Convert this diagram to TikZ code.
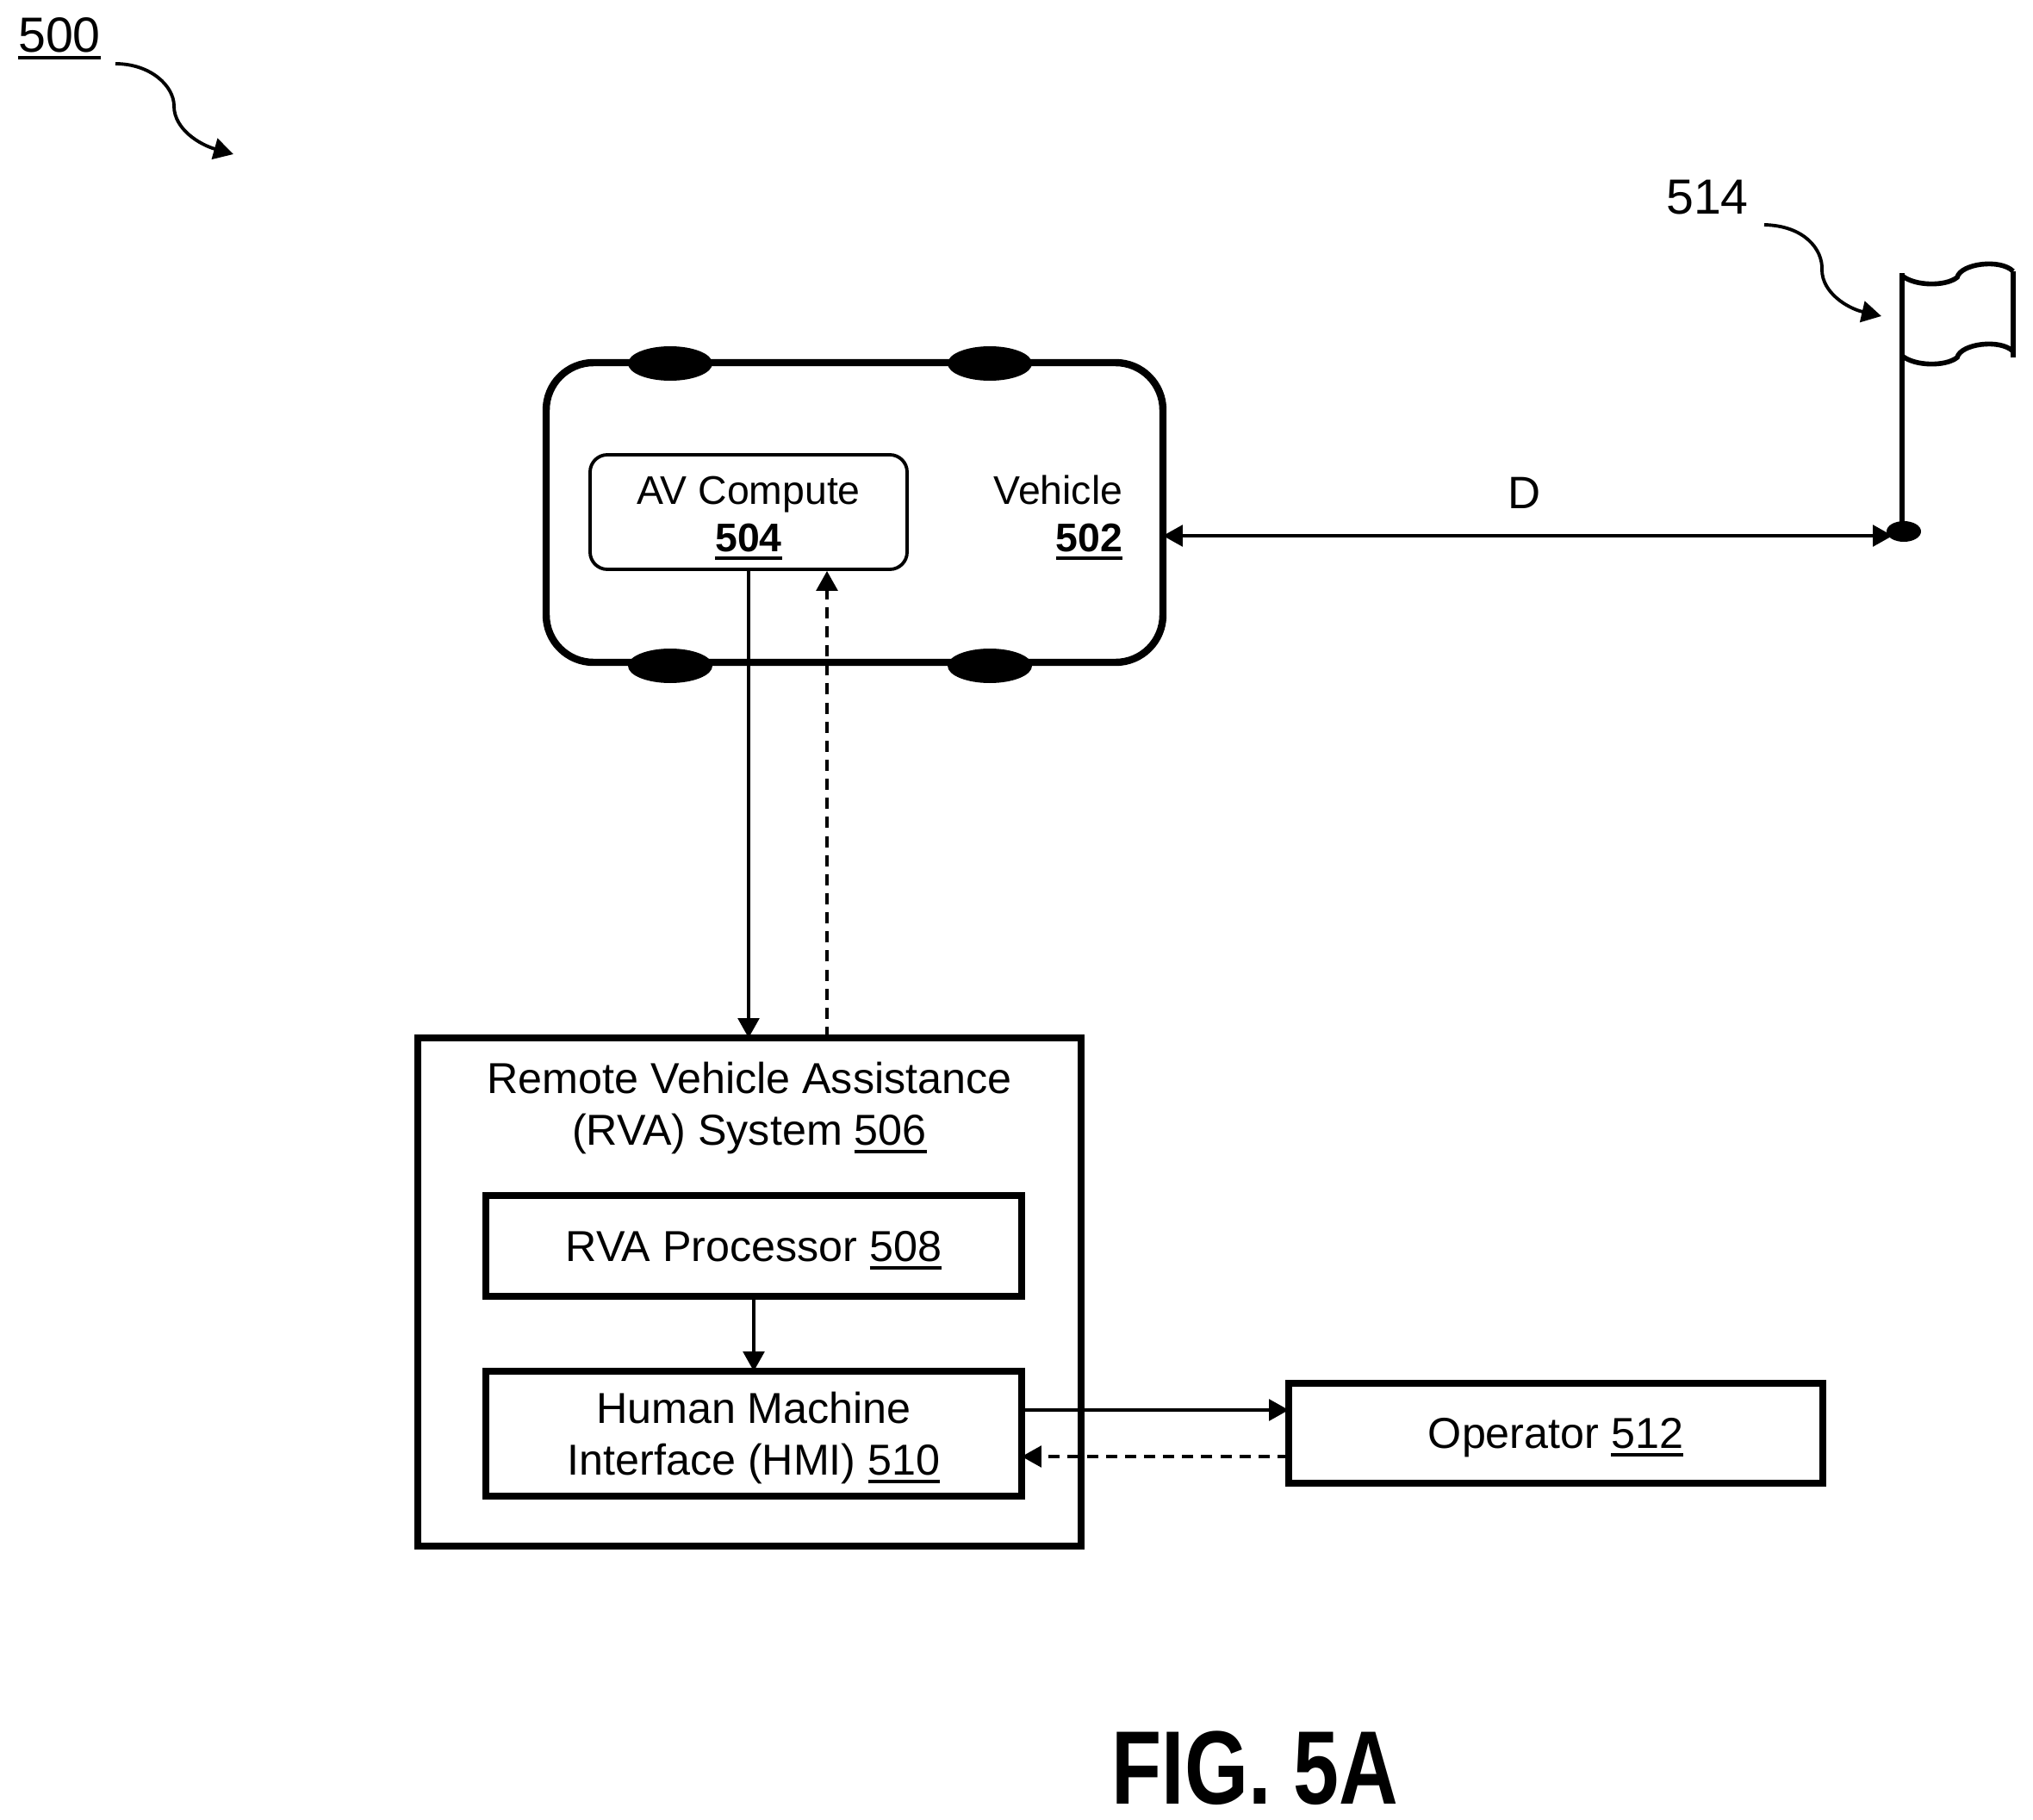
\documentclass[tikz,border=0pt]{standalone}
\usepackage{graphicx}
\usepackage{fontspec}
\setmainfont{Liberation Sans}
\usetikzlibrary{positioning, arrows.meta, shapes.geometric}
\newcommand{\numul}[1]{\leavevmode\setbox0=\hbox{#1}\rlap{\vrule width\wd0 height -1.5pt depth 2.7pt}\box0 }
\newcommand{\boxfont}{\fontsize{14.3}{17}\selectfont}
\newcommand{\carfont}{\fontsize{13.2}{15.7}\selectfont}
\newcommand{\callfont}{\fontsize{16.3}{19}\selectfont}
\newcommand{\boxstrut}{\rule{0pt}{13.2pt}}
\newcommand{\carstrut}{\rule{0pt}{13.4pt}}
\tikzset{
  thickbox/.style={draw, line width=2.3pt, inner sep=0pt, outer sep=0pt, align=center, font=\boxfont},
  wheel/.style={ellipse, fill=black, inner sep=0pt, minimum width=.98cm, minimum height=.4cm},
  link/.style={line width=1pt},
  dashlink/.style={line width=1pt, dash pattern=on 3.7pt off 2.6pt},
  callout/.style={line width=1.1pt},
  flagline/.style={line width=1.6pt},
}
\begin{document}
\begin{tikzpicture}[>={Triangle[length=6.5pt,width=7pt]}]
\useasboundingbox (0,0) rectangle (23.6,-21.13);

% vehicle
\node[draw, line width=2.4pt, outer sep=0pt, rounded corners=.55cm, minimum width=7.16cm, minimum height=3.48cm] (vehicle) at (9.92,-5.95) {};
\foreach \x/\y/\wname in {7.78/-4.22/wheelA, 11.49/-4.22/wheelB, 7.78/-7.73/wheelC, 11.49/-7.73/wheelD}
\node[wheel] (\wname) at (\x,\y) {};
\node[draw, line width=1.1pt, rounded corners=.2cm, inner sep=0pt, minimum width=3.68cm, minimum height=1.33cm, align=center, font=\carfont] (av) at (8.69,-5.945) {\carstrut AV Compute\\\textbf{\numul{504}}};
\node[anchor=east, inner sep=0pt, align=right, font=\carfont] (vehlabel) at (13.04,-6.01) {Vehicle\\\textbf{\numul{502}}};

% RVA system
\node[thickbox, minimum width=7.7cm, minimum height=5.9cm] (rva) at (8.7,-15) {};
\node[align=center, inner sep=0pt, font=\boxfont] (rvatitle) at (8.7,-12.865) {Remote Vehicle Assistance\\(RVA) System \numul{506}};
\node[thickbox, minimum width=6.22cm, minimum height=1.17cm] (proc) at (8.75,-14.465) {\boxstrut RVA Processor \numul{508}};
\node[thickbox, minimum width=6.22cm, minimum height=1.45cm] (hmi) at (8.75,-16.645) {\boxstrut Human Machine\\Interface (HMI) \numul{510}};
\node[thickbox, minimum width=6.2cm, minimum height=1.16cm] (op) at (18.06,-16.64) {\boxstrut Operator \numul{512}};

% connectors
\coordinate (upx) at (9.6,-10);
\coordinate (opout) at (15,-16.37);
\coordinate (opin) at (15,-16.91);
\draw[link,->] (av.south) -- (av.south |- rva.north);
\draw[dashlink,->] (rva.north -| upx) -- (av.south -| upx);
\draw[link,->] (proc.south) -- (hmi.north);
\draw[link,->] (hmi.east |- opout) -- (op.west |- opout);
\draw[dashlink,->] (op.west |- opin) -- (hmi.east |- opin);

% flag
\node[ellipse, fill=black, inner sep=0pt, minimum width=.4cm, minimum height=.24cm] (ball) at (22.1,-6.17) {};
\coordinate (poletop) at (22.08,-3.17);
\draw[flagline] (poletop) -- (ball.center -| poletop);
\foreach \dy in {0,-.93}
\draw[flagline] (22.08,-3.2+\dy) .. controls (22.22,-3.32+\dy) and (22.58,-3.33+\dy) .. (22.72,-3.22+\dy)
   .. controls (22.76,-3.06+\dy) and (23.22,-3+\dy) .. (23.37,-3.15+\dy);
\draw[flagline] (23.37,-3.15) -- (23.37,-4.15);

% distance
\coordinate (dend) at (21.97,-6.22);
\draw[link,<->] (vehicle.east |- dend) -- (dend);
\node[font=\fontsize{15}{18}\selectfont, anchor=base, inner sep=0pt] (dlabel) at (17.7,-5.9) {D};

% callouts
\node[anchor=base, inner sep=0pt, font=\callfont] (num500) at (.69,-.6) {\numul{500}};
\coordinate (s500) at (1.34,-.74);
\coordinate (e500) at (2.71,-1.79);
\draw[callout,->] (s500) .. controls (1.75,-.74) and (2.02,-1) .. (2.02,-1.23) .. controls (2.02,-1.5) and (2.32,-1.68) .. (e500);
\node[anchor=base, inner sep=0pt, font=\callfont] (num514) at (19.82,-2.48) {514};
\coordinate (s514) at (20.48,-2.61);
\coordinate (e514) at (21.84,-3.67);
\draw[callout,->] (s514) .. controls (20.95,-2.62) and (21.16,-2.9) .. (21.15,-3.13) .. controls (21.15,-3.4) and (21.45,-3.58) .. (e514);

% figure label
\node[anchor=base, inner sep=0pt, font=\fontsize{34.5}{40}\selectfont\bfseries] (figlabel) at (14.57,-20.94) {\scalebox{.785}[1]{FIG. 5A}};
\end{tikzpicture}
\end{document}
